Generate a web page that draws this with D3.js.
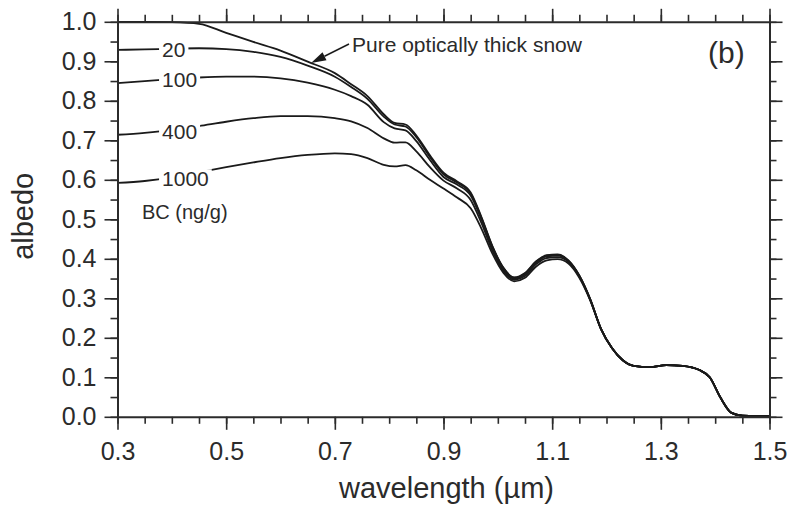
<!DOCTYPE html>
<html>
<head>
<meta charset="utf-8">
<script src="https://cdn.jsdelivr.net/npm/d3@7"></script>
<style>
  body { margin: 0; background: #fff; }
  svg { display: block; }
  text { font-family: "Liberation Sans", Arial, Helvetica, sans-serif; fill: #2b2b2b; }
</style>
</head>
<body>
<svg id="chart" width="788" height="511"></svg>
<script>
// Spectral albedo of snow: pure snow and snow with black carbon (BC, ng/g)
const wavelength = [0.30, 0.35, 0.40, 0.45, 0.50, 0.55, 0.60, 0.65, 0.70, 0.73,
  0.76, 0.79, 0.81, 0.83, 0.85, 0.875, 0.90, 0.925, 0.95, 0.97,
  0.99, 1.01, 1.03, 1.05, 1.07, 1.09, 1.11, 1.13, 1.15, 1.17,
  1.19, 1.21, 1.23, 1.25, 1.28, 1.31, 1.34, 1.37, 1.39, 1.41,
  1.43, 1.45, 1.475, 1.50];

const albedoPure = [1.000, 1.000, 0.999, 0.995, 0.972, 0.949, 0.927, 0.899, 0.870, 0.842,
  0.812, 0.766, 0.744, 0.740, 0.712, 0.662, 0.618, 0.596, 0.568, 0.505,
  0.432, 0.378, 0.353, 0.364, 0.393, 0.409, 0.411, 0.396, 0.358, 0.298,
  0.222, 0.174, 0.143, 0.129, 0.126, 0.131, 0.129, 0.119, 0.100, 0.048,
  0.010, 0.003, 0.002, 0.002];

const albedoBC20 = [0.929, 0.930, 0.932, 0.933, 0.931, 0.924, 0.911, 0.889, 0.861, 0.835,
  0.805, 0.760, 0.740, 0.735, 0.708, 0.658, 0.614, 0.593, 0.565, 0.503,
  0.431, 0.377, 0.352, 0.363, 0.392, 0.408, 0.410, 0.395, 0.357, 0.298,
  0.222, 0.174, 0.143, 0.129, 0.126, 0.131, 0.129, 0.119, 0.100, 0.048,
  0.010, 0.003, 0.002, 0.002];

const albedoBC100 = [0.845, 0.850, 0.855, 0.859, 0.861, 0.861, 0.857, 0.846, 0.828, 0.812,
  0.790, 0.746, 0.730, 0.725, 0.698, 0.650, 0.607, 0.588, 0.560, 0.499,
  0.428, 0.375, 0.350, 0.361, 0.390, 0.406, 0.408, 0.394, 0.356, 0.297,
  0.222, 0.174, 0.143, 0.129, 0.126, 0.131, 0.129, 0.119, 0.100, 0.048,
  0.010, 0.003, 0.002, 0.002];

const albedoBC400 = [0.714, 0.719, 0.726, 0.736, 0.747, 0.756, 0.761, 0.761, 0.756, 0.748,
  0.731, 0.705, 0.694, 0.695, 0.672, 0.632, 0.598, 0.578, 0.549, 0.490,
  0.421, 0.370, 0.347, 0.357, 0.386, 0.402, 0.404, 0.392, 0.355, 0.296,
  0.222, 0.174, 0.143, 0.129, 0.126, 0.131, 0.129, 0.119, 0.100, 0.048,
  0.010, 0.003, 0.002, 0.002];

const albedoBC1000 = [0.592, 0.597, 0.606, 0.619, 0.632, 0.644, 0.655, 0.663, 0.667, 0.665,
  0.655, 0.638, 0.634, 0.637, 0.624, 0.600, 0.578, 0.555, 0.528, 0.476,
  0.413, 0.365, 0.343, 0.352, 0.380, 0.396, 0.399, 0.388, 0.352, 0.295,
  0.222, 0.174, 0.143, 0.129, 0.126, 0.131, 0.129, 0.119, 0.100, 0.048,
  0.010, 0.003, 0.002, 0.002];

const bcLabels = ["20", "100", "400", "1000"];
const xMajorTicks = [0.3, 0.5, 0.7, 0.9, 1.1, 1.3, 1.5];
const yMajorTicks = [0.0, 0.1, 0.2, 0.3, 0.4, 0.5, 0.6, 0.7, 0.8, 0.9, 1.0];

const svg = d3.select("#chart");
const ink = "#2b2b2b";
const lineInk = "#1a1a1a";

const x = d3.scaleLinear().domain([0.3, 1.5]).range([117.5, 769.5]);
const y = d3.scaleLinear().domain([0, 1]).range([416.8, 21.8]);

const xMinorTicks = d3.range(0, 25).map(i => +(0.3 + i * 0.05).toFixed(2));
const yMinorTicks = d3.range(0, 21).map(i => +(i * 0.05).toFixed(2));

// linear lookup of a series at an arbitrary wavelength
function valueAt(values, wl) {
  const i = Math.max(0, Math.min(wavelength.length - 2, d3.bisectRight(wavelength, wl) - 1));
  const t = (wl - wavelength[i]) / (wavelength[i + 1] - wavelength[i]);
  return values[i] + t * (values[i + 1] - values[i]);
}

const series = [
  { values: albedoPure },
  { values: albedoBC20, label: bcLabels[0], at: 0.382 },
  { values: albedoBC100, label: bcLabels[1], at: 0.382 },
  { values: albedoBC400, label: bcLabels[2], at: 0.382 },
  { values: albedoBC1000, label: bcLabels[3], at: 0.382 }
];

const line = d3.line()
  .x((d, i) => x(wavelength[i]))
  .y(d => y(d))
  .curve(d3.curveMonotoneX);

svg.append("g")
  .selectAll("path")
  .data(series)
  .join("path")
  .attr("d", d => line(d.values))
  .attr("fill", "none")
  .attr("stroke", lineInk)
  .attr("stroke-width", 1.8)
  .attr("stroke-linejoin", "round");

// inline BC labels sitting on their curves, with a white gap behind
const labelLayer = svg.append("g");
series.filter(s => s.label).forEach(s => {
  const g = labelLayer.append("g");
  const t = g.append("text")
    .attr("x", x(s.at))
    .attr("y", y(valueAt(s.values, s.at)))
    .attr("dy", "0.36em")
    .attr("font-size", 21)
    .text(s.label);
  const b = t.node().getBBox();
  g.insert("rect", "text")
    .attr("x", b.x - 3)
    .attr("y", b.y + 2)
    .attr("width", b.width + 6)
    .attr("height", b.height - 4)
    .attr("fill", "#fff");
});

labelLayer.append("text")
  .attr("x", 142)
  .attr("y", 219)
  .attr("font-size", 20)
  .text("BC (ng/g)");

// annotation for the pure-snow curve
const tipWl = 0.66;
const tip = [x(tipWl) - 2, y(valueAt(albedoPure, tipWl)) - 1];
const tail = [349, 44];
const ang = Math.atan2(tip[1] - tail[1], tip[0] - tail[0]);
const headLen = 15, headHalf = 4.5;
const base = [tip[0] - headLen * Math.cos(ang), tip[1] - headLen * Math.sin(ang)];
svg.append("line")
  .attr("x1", tail[0]).attr("y1", tail[1])
  .attr("x2", base[0]).attr("y2", base[1])
  .attr("stroke", lineInk).attr("stroke-width", 1.5);
svg.append("path")
  .attr("d", d3.line()([
    tip,
    [base[0] + headHalf * Math.sin(ang), base[1] - headHalf * Math.cos(ang)],
    [base[0] - headHalf * Math.sin(ang), base[1] + headHalf * Math.cos(ang)]
  ]) + "Z")
  .attr("fill", lineInk);

svg.append("text")
  .attr("x", 352)
  .attr("y", 51.5)
  .attr("font-size", 21)
  .text("Pure optically thick snow");

svg.append("text")
  .attr("x", 708)
  .attr("y", 63)
  .attr("font-size", 30)
  .text("(b)");

// axes: major ticks with labels on bottom/left, plain ticks on top/right
function styleAxis(g, fontSize) {
  g.attr("color", ink)
    .attr("font-family", "'Liberation Sans', Arial, Helvetica, sans-serif")
    .attr("font-size", fontSize);
  g.selectAll(".tick line").attr("stroke-width", 1.6);
  g.select(".domain").attr("stroke-width", 2);
}

const fmt = d3.format(".1f");
const x0 = x(0.3), x1 = x(1.5), y0 = y(0), y1 = y(1);

function addAxis(axisFn, scale, transform, major, minor, labelled, pad) {
  const gMinor = svg.append("g").attr("transform", transform)
    .call(axisFn(scale).tickValues(minor).tickSize(7).tickSizeOuter(0).tickFormat(""));
  gMinor.select(".domain").remove();
  styleAxis(gMinor, 25);
  const gMajor = svg.append("g").attr("transform", transform)
    .call(axisFn(scale).tickValues(major).tickSize(13).tickSizeOuter(0)
      .tickPadding(pad).tickFormat(labelled ? fmt : ""));
  styleAxis(gMajor, 25);
  return gMajor;
}

addAxis(d3.axisBottom, x, `translate(0,${y0})`, xMajorTicks, xMinorTicks, true, 12);
addAxis(d3.axisTop, x, `translate(0,${y1})`, xMajorTicks, xMinorTicks, false, 3);
addAxis(d3.axisLeft, y, `translate(${x0},0)`, yMajorTicks, yMinorTicks, true, 8);
addAxis(d3.axisRight, y, `translate(${x1},0)`, yMajorTicks, yMinorTicks, false, 3);

svg.selectAll("g text").attr("fill", ink);

svg.append("text")
  .attr("x", (x0 + x1) / 2 + 3)
  .attr("y", 498)
  .attr("text-anchor", "middle")
  .attr("font-size", 29)
  .text("wavelength (\u00b5m)");

svg.append("text")
  .attr("transform", `translate(33,${(y0 + y1) / 2 - 3}) rotate(-90)`)
  .attr("text-anchor", "middle")
  .attr("font-size", 29)
  .text("albedo");
</script>
</body>
</html>
